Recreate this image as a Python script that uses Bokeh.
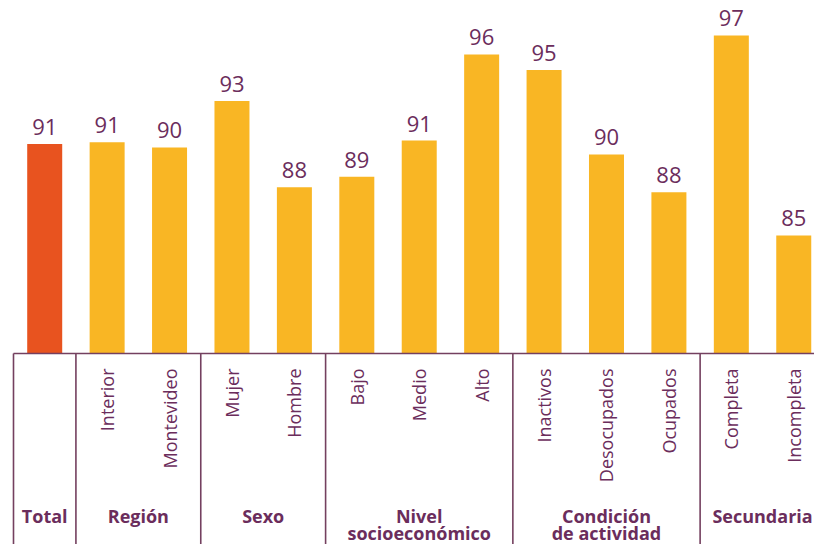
import numpy as np
from bokeh.plotting import figure
from bokeh.models import Range1d
from bokeh.core.properties import value
from bokeh.embed import file_html
from bokeh.resources import INLINE

# ---- data ----
categories = ["Total", "Interior", "Montevideo", "Mujer", "Hombre", "Bajo", "Medio", "Alto",
              "Inactivos", "Desocupados", "Ocupados", "Completa", "Incompleta"]
values = [90.6, 90.7, 90.4, 93.1, 88.1, 88.7, 90.8, 95.8, 94.9, 90.0, 87.8, 96.9, 85.3]
group_names = ["Total", "Región", "Sexo", "Nivel\nsocioeconómico", "Condición\nde actividad", "Secundaria"]
group_sizes = [1, 2, 2, 3, 3, 2]

# ---- layout constants (pixels) ----
W, H = 814, 544
BAND = 62.42        # px per category
LEFT = 13           # px of first separator
BASE_PX = 353       # px of baseline
PX_UNIT = 17.24     # px per value unit
BASE = 78.45        # value at baseline

x_start = -0.5 - LEFT / BAND
x_end = x_start + W / BAND
y_end = BASE + BASE_PX / PX_UNIT
y_start = y_end - H / PX_UNIT


def ypix(pix):
    return y_end - pix / PX_UNIT


PURPLE = "#6b2d5c"
LINE = "#74405f"
FONT = "Open Sans"

p = figure(width=W, height=H, output_backend="svg", toolbar_location=None,
           x_range=Range1d(x_start, x_end), y_range=Range1d(y_start, y_end),
           min_border=0, x_axis_type=None, y_axis_type=None)
p.outline_line_color = None
p.xgrid.visible = False
p.ygrid.visible = False
p.background_fill_color = "white"
p.border_fill_color = "white"

idx = np.arange(len(categories))
colors = ["#e8531f"] + ["#f9b624"] * (len(categories) - 1)

p.vbar(x=idx, top=values, bottom=BASE, width=35 / BAND, fill_color=colors, line_color=None)

# value labels
p.text(x=idx, y=values, text=[f"{v:.0f}" for v in values], text_align="center",
       text_baseline="alphabetic", y_offset=-17, text_font=value(FONT),
       text_font_size="22px", text_color=PURPLE)

# baseline
p.segment(x0=[-0.5], y0=[BASE], x1=[x_end], y1=[BASE], line_color=LINE, line_width=1.6)

# separators
bounds = np.concatenate([[0], np.cumsum(group_sizes)]) - 0.5
seps = bounds[:-1]
p.segment(x0=seps, y0=[BASE] * len(seps), x1=seps, y1=[y_start] * len(seps),
          line_color=LINE, line_width=1.6)

# rotated category labels (skip Total, which is a group on its own)
sub_idx = [i for i in idx if i > 0]
p.text(x=sub_idx, y=[ypix(368)] * len(sub_idx), text=[categories[i] for i in sub_idx],
       angle=np.pi / 2, text_align="right", text_baseline="middle",
       text_font=value(FONT), text_font_size="18px", text_color=PURPLE)

# group labels
gx, gy, gt = [], [], []
for k, name in enumerate(group_names):
    cx = (bounds[k] + bounds[k + 1]) / 2
    for j, line in enumerate(name.split("\n")):
        gx.append(cx)
        gy.append(ypix(515 + 17 * j))
        gt.append(line)
p.text(x=gx, y=gy, text=gt, text_align="center", text_baseline="alphabetic",
       text_font=value(FONT), text_font_size="18px", text_font_style="bold",
       text_color=PURPLE)

open("out.html", "w").write(file_html(p, INLINE))
